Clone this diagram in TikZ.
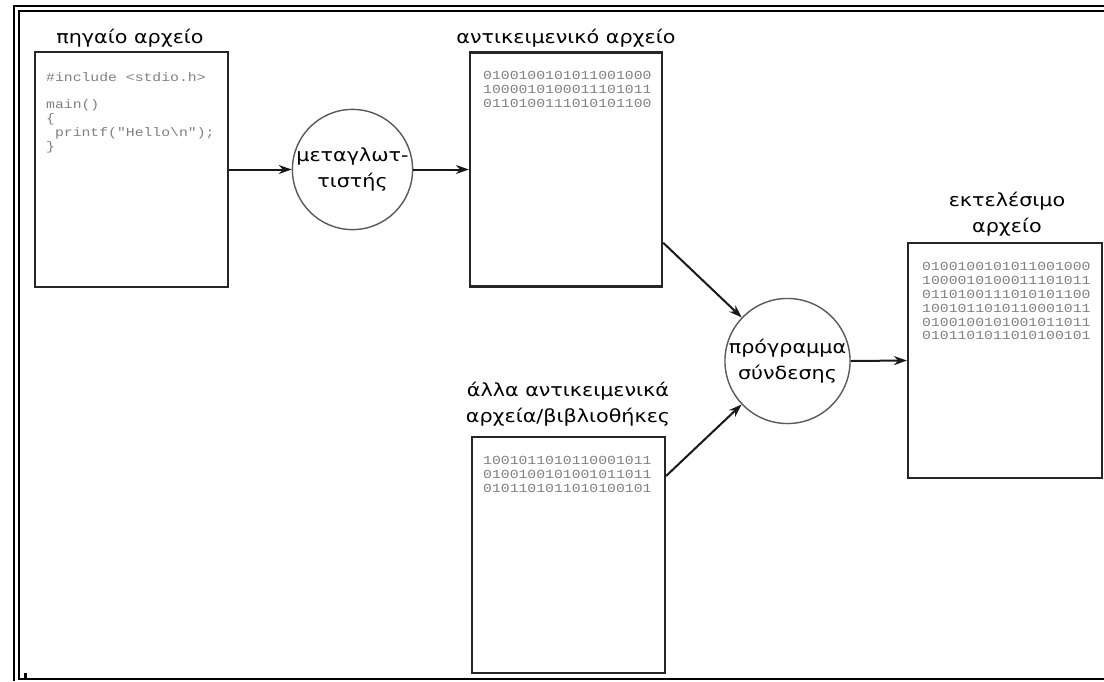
\documentclass[tikz,border=0pt]{standalone}
\usepackage{fontspec}
\setmainfont{DejaVu Sans}
\newfontfamily\grk[FakeStretch=1.15]{DejaVu Sans}
\newfontfamily\codefont[FakeStretch=1.2]{Liberation Mono}
\usetikzlibrary{arrows.meta}
\tikzset{
  filebox/.style={draw=black!85, line width=2.2pt, rectangle, inner sep=0pt},
  proc/.style={draw=black!65, line width=1.4pt, circle, minimum size=118pt, inner sep=0pt, align=center,
    font=\grk\fontsize{18}{26}\selectfont},
  ttl/.style={inner sep=0pt, align=center, font=\grk\fontsize{18}{26}\selectfont, anchor=south},
  bits/.style={inner sep=0pt, anchor=north west, align=left, text=black!50,
    font=\codefont\fontsize{12.3}{13.9}\selectfont},
  flow/.style={draw=black!90, line width=2pt, -{Stealth[length=13pt,width=9pt]}},
  frame/.style={line width=2.2pt, black}
}
\begin{document}
\begin{tikzpicture}[x=1pt,y=-1pt]
\useasboundingbox (0,0) rectangle (1104,681);
\fill[white] (0,0) rectangle (1104,681);
% frame
\draw[frame] (1104,6) -- (14,6) -- (14,681);
\draw[frame] (1104,11) -- (19,11) -- (19,679) -- (1104,679);
\draw[line width=3pt] (25.5,673) -- (25.5,679);
% file boxes
\node[filebox, minimum width=193pt, minimum height=235pt] (src) at (131.5,169.5) {};
\node[filebox, minimum width=192pt, minimum height=234pt] (obj) at (566,169.5) {};
\node[filebox, minimum width=194pt, minimum height=235pt] (exe) at (1005,360.5) {};
\node[filebox, minimum width=193pt, minimum height=236pt] (oth) at (568.5,555) {};
% titles
\node[ttl] (srct) at (130,47.5) {πηγαίο αρχείο};
\node[ttl] (objt) at (566,47.5) {αντικειμενικό αρχείο};
\node[ttl] (exet) at (1007,236.5) {εκτελέσιμο\\αρχείο};
\node[ttl] (otht) at (568,426.5) {άλλα αντικειμενικά\\αρχεία/βιβλιοθήκες};
% contents
\node[bits] (code) at (46,72) {\#include <stdio.h>\\[13.9pt]main()\\\{\\\ printf("Hello\textbackslash n");\\\}};
\node[bits] (objb) at (483,71) {0100100101011001000\\1000010100011101011\\0110100111010101100};
\node[bits] (exeb) at (922,262) {0100100101011001000\\1000010100011101011\\0110100111010101100\\1001011010110001011\\0100100101001011011\\0101101011010100101};
\node[bits] (othb) at (483,456) {1001011010110001011\\0100100101001011011\\0101101011010100101};
% processes
\node[proc] (comp) at (352.5,169.5) {μεταγλωτ-\\τιστής};
\node[proc] (link) at (787.5,361) {πρόγραμμα\\σύνδεσης};
% connectors
\draw[flow] (src.east) -- (comp.west);
\draw[flow] (comp.east) -- (obj.west);
\draw[flow] (obj.-37.6) -- (link);
\draw[flow] (oth.39) -- (link);
\draw[flow] (link.east) -- (exe.west);
\end{tikzpicture}
\end{document}
